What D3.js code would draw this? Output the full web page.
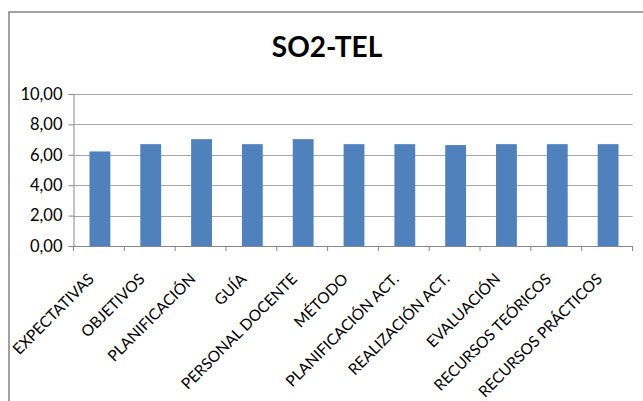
<!DOCTYPE html>
<html>
<head>
<meta charset="utf-8">
<script src="https://cdn.jsdelivr.net/npm/d3@7"></script>
<style>
  html, body { margin: 0; padding: 0; background: #fff; }
  svg { display: block; }
  text { font-family: Lato, "Open Sans", sans-serif; fill: #000; }
</style>
</head>
<body>
<div id="chart"></div>
<script>
const categories = [
  'EXPECTATIVAS', 'OBJETIVOS', 'PLANIFICACIÓN', 'GUÍA', 'PERSONAL DOCENTE',
  'MÉTODO', 'PLANIFICACIÓN ACT.', 'REALIZACIÓN ACT.', 'EVALUACIÓN',
  'RECURSOS TEÓRICOS', 'RECURSOS PRÁCTICOS'
];
const values = [6.22, 6.70, 7.03, 6.70, 7.03, 6.70, 6.70, 6.64, 6.70, 6.70, 6.70];
const yTicks = [0, 2, 4, 6, 8, 10];
const title = 'SO2-TEL';

const width = 643, height = 401;
const plot = { left: 73.5, right: 632.5, top: 94, bottom: 246 };

const svg = d3.select('#chart').append('svg')
  .attr('width', width)
  .attr('height', height);

svg.append('rect').attr('width', width).attr('height', height).attr('fill', '#fff');

// chart frame (cut off at right / bottom like the reference)
svg.append('rect')
  .attr('x', 9).attr('y', 12)
  .attr('width', 700).attr('height', 500)
  .attr('fill', 'none')
  .attr('stroke', '#8a8a8a')
  .attr('stroke-width', 1.6);

const x = d3.scaleBand()
  .domain(categories)
  .range([plot.left, plot.right])
  .paddingInner(0.59)
  .paddingOuter(0.295);

const xBand = d3.scaleBand().domain(categories).range([plot.left, plot.right]);

const y = d3.scaleLinear().domain([0, 10]).range([plot.bottom, plot.top]);

const fmt = v => d3.format('.2f')(v).replace('.', ',');

// gridlines
svg.append('g')
  .selectAll('line')
  .data(yTicks.filter(d => d > 0))
  .join('line')
  .attr('x1', plot.left).attr('x2', plot.right)
  .attr('y1', d => Math.round(y(d)) + 0.5).attr('y2', d => Math.round(y(d)) + 0.5)
  .attr('stroke', '#a6a6a6')
  .attr('stroke-width', 1);

// bars
svg.append('g')
  .selectAll('rect')
  .data(values)
  .join('rect')
  .attr('x', (d, i) => x(categories[i]) + 1)
  .attr('width', x.bandwidth())
  .attr('y', d => y(d))
  .attr('height', d => y(0) - y(d))
  .attr('fill', '#4F81BD');

// y axis
const yAxis = svg.append('g')
  .attr('transform', `translate(${plot.left},0)`)
  .call(d3.axisLeft(y).tickValues(yTicks).tickFormat(fmt).tickSize(5).tickPadding(6));
yAxis.select('.domain').attr('stroke', '#868686');
yAxis.selectAll('.tick line').attr('stroke', '#868686');
yAxis.selectAll('.tick text')
  .attr('font-size', 16.5)
  .attr('font-family', 'Lato, "Open Sans", sans-serif')
  .attr('fill', '#000');

// x axis
const xAxis = svg.append('g')
  .attr('transform', `translate(0,${plot.bottom})`)
  .call(d3.axisBottom(xBand).tickSize(5).tickFormat(''));
xAxis.select('.domain').attr('stroke', '#868686').attr('d', `M${plot.left},0.5H${plot.right}`);
xAxis.selectAll('.tick').remove();
const edges = d3.range(categories.length + 1).map(i => plot.left + i * xBand.step());
xAxis.selectAll('line.edge')
  .data(edges)
  .join('line')
  .attr('class', 'edge')
  .attr('x1', d => d).attr('x2', d => d)
  .attr('y1', 0).attr('y2', 5)
  .attr('stroke', '#868686');

// rotated category labels
svg.append('g')
  .selectAll('text')
  .data(categories)
  .join('text')
  .attr('transform', d => `translate(${xBand(d) + xBand.bandwidth() / 2 - 4},${plot.bottom + 34}) rotate(-45)`)
  .attr('text-anchor', 'end')
  .attr('font-size', 15.5)
  .text(d => d);

// title
svg.append('text')
  .attr('x', 327)
  .attr('y', 57)
  .attr('text-anchor', 'middle')
  .attr('font-size', 28)
  .attr('font-weight', 'bold')
  .text(title);
</script>
</body>
</html>
